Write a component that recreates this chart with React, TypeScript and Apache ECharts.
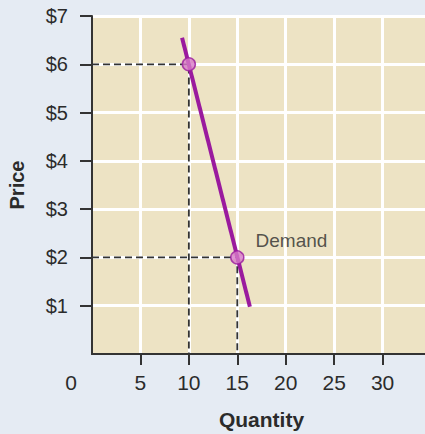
import React, { useEffect, useRef } from "react";
import * as echarts from "echarts";

const xTicks = [0, 5, 10, 15, 20, 25, 30];
const yTicks = [1, 2, 3, 4, 5, 6, 7];
const demandLine = [
  [9.3, 6.55],
  [16.3, 0.98],
];
const demandPoints = [
  [10, 6],
  [15, 2],
];
const seriesLabel = "Demand";
const xName = "Quantity";
const yName = "Price";

export default function App() {
  const ref = useRef<HTMLDivElement>(null);
  useEffect(() => {
    const chart = echarts.init(ref.current!, null, { renderer: "svg" });
    const font = "'Liberation Sans', Arial, sans-serif";
    const guides = demandPoints.map((p) => ({
      type: "line",
      data: [
        [0, p[1]],
        [p[0], p[1]],
        [p[0], 0],
      ],
      symbol: "none",
      lineStyle: { color: "#333333", width: 1.8, type: [7, 4] },
      z: 3,
      silent: true,
    }));
    chart.setOption({
      animation: false,
      backgroundColor: "#e5ebf3",
      grid: {
        left: 92,
        top: 16,
        right: -6,
        bottom: 80,
        containLabel: false,
        outerBoundsMode: "none",
        show: true,
        backgroundColor: "#ede3c4",
        borderColor: "#4a4a4a",
        borderWidth: 1.5,
      },
      xAxis: {
        type: "value",
        min: 0,
        max: 35,
        interval: 5,
        name: xName,
        nameLocation: "middle",
        nameGap: 55,
        nameTextStyle: { fontFamily: font, fontWeight: "bold", fontSize: 21, color: "#2b2b2b" },
        axisLine: { show: true, lineStyle: { color: "#333", width: 2 } },
        axisTick: { show: true, length: 11, customValues: xTicks.filter((v) => v !== 0), lineStyle: { color: "#333", width: 2 } },
        axisLabel: {
          customValues: xTicks,
          margin: 18,
          fontFamily: font,
          fontSize: 21,
          color: "#2b2b2b",
          formatter: (v: number) => (v === 0 ? "{z|0}" : String(v)),
          rich: { z: { padding: [0, 42, 0, 0], fontFamily: font, fontSize: 21, color: "#2b2b2b" } },
        },
        splitLine: { show: true, lineStyle: { color: "#ffffff", width: 3 } },
      },
      yAxis: {
        type: "value",
        min: 0,
        max: 7,
        interval: 1,
        name: yName,
        nameLocation: "middle",
        nameGap: 65,
        nameRotate: 90,
        nameTextStyle: { fontFamily: font, fontWeight: "bold", fontSize: 20, color: "#2b2b2b" },
        axisLine: { show: true, lineStyle: { color: "#333", width: 2 } },
        axisTick: { show: true, length: 12, customValues: yTicks, lineStyle: { color: "#333", width: 2 } },
        axisLabel: {
          customValues: yTicks,
          margin: 24,
          fontFamily: font,
          fontSize: 20,
          color: "#2b2b2b",
          formatter: (v: number) => "$" + v,
        },
        splitLine: { show: true, lineStyle: { color: "#ffffff", width: 3 } },
      },
      series: [
        ...guides,
        {
          type: "line",
          data: demandLine,
          symbol: "none",
          lineStyle: { color: "#9a1a9e", width: 4 },
          z: 4,
        },
        {
          type: "scatter",
          data: demandPoints.map((p, i) =>
            i === 1
              ? {
                  value: p,
                  label: {
                    show: true,
                    formatter: seriesLabel,
                    position: "right",
                    offset: [6, -17],
                    fontFamily: font,
                    fontSize: 19,
                    color: "#2b2b2b",
                  },
                }
              : { value: p }
          ),
          symbol: "circle",
          symbolSize: 13,
          itemStyle: { color: "#d77ac8", borderColor: "#9a1a9e", borderWidth: 1.5 },
          z: 5,
        },
      ],
    });
    return () => chart.dispose();
  }, []);
  return (
    <div
      ref={ref}
      style={{ position: "fixed", left: 0, top: 0, width: 425, height: 434 }}
    />
  );
}
